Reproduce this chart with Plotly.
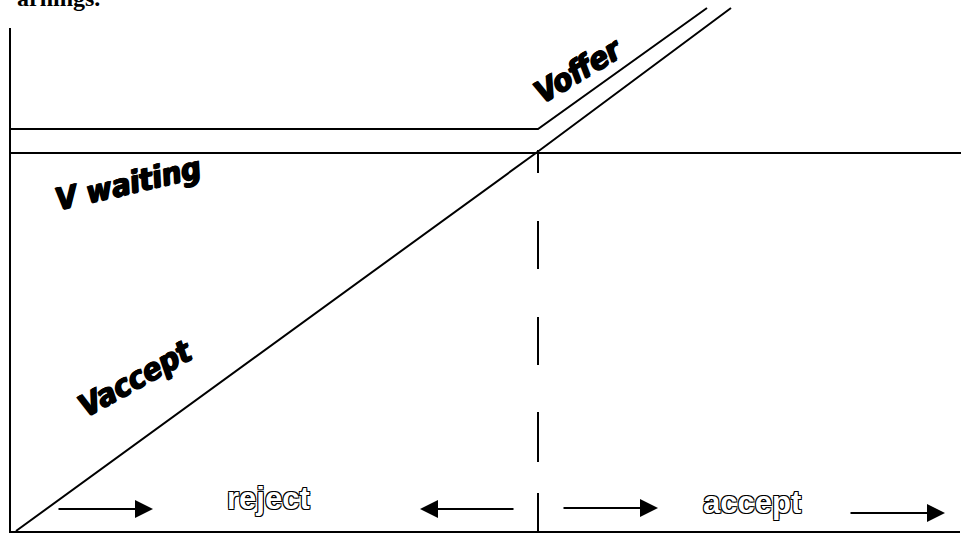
import plotly.graph_objects as go

# coordinates measured from the origin of the drawn axes (x right, y up)
axis_x = [0, 0, 950]
axis_y = [504, 0, 0]

waiting_x = [0, 951]
waiting_y = [379, 379]

offer_x = [0, 528, 697]
offer_y = [403, 403, 524]

accept_x = [6, 526, 721]
accept_y = [1, 379, 524]

cutoff_x = [528, 528]
cutoff_y = [382, 0]

# arrows: (tail x, tip x, y)
arrows = [(47, 143, 23), (505, 410, 23), (552, 648, 24), (839, 935, 19)]

labels = ["V waiting", "Voffer", "Vaccept"]
label_x = [118, 568, 125]
label_y = [349, 462, 154]
label_angle = [-13, -31, -29]

region_labels = ["reject", "accept"]
region_x = [258, 742]
region_y = [34, 30]

heading = "arnings."

line_style = dict(color="black", width=2)

fig = go.Figure()
fig.add_trace(go.Scatter(x=axis_x, y=axis_y, mode="lines", line=line_style))
fig.add_trace(go.Scatter(x=waiting_x, y=waiting_y, mode="lines", line=line_style))
fig.add_trace(go.Scatter(x=offer_x, y=offer_y, mode="lines", line=line_style))
fig.add_trace(go.Scatter(x=accept_x, y=accept_y, mode="lines", line=line_style))
fig.add_trace(go.Scatter(x=cutoff_x, y=cutoff_y, mode="lines",
                         line=dict(color="black", width=2,
                                   dash="23px,48px,48px,48px,48px,47px,50px,31px,39px")))

# heavy slanted labels, thickened with a tight shadow
heavy = "1px 0 0 #000, -1px 0 0 #000, 0 1px 0 #000"
label_font = dict(family="DejaVu Sans Condensed, DejaVu Sans",
                  size=31, color="black", weight="bold", style="italic",
                  shadow=heavy)
for text, x, y, a in zip(labels, label_x, label_y, label_angle):
    fig.add_annotation(x=x, y=y, text=text, showarrow=False, textangle=a,
                       font=label_font)

outline = "-1px -1px 0 #000, 1px -1px 0 #000, -1px 1px 0 #000, 1px 1px 0 #000"
for text, x, y in zip(region_labels, region_x, region_y):
    fig.add_annotation(x=x, y=y, text=text, showarrow=False,
                       font=dict(family="Liberation Sans", size=31, color="white",
                                 weight="bold", shadow=outline))

for tail, tip, y in arrows:
    fig.add_annotation(x=tip, y=y, ax=tail, ay=y, axref="x", ayref="y",
                       text="", showarrow=True, arrowhead=2, arrowsize=1.8,
                       arrowwidth=2, arrowcolor="black", standoff=0)

fig.add_annotation(x=92, y=519, text=heading, showarrow=False,
                   xanchor="right", yanchor="bottom",
                   font=dict(family="Liberation Serif", size=24, color="black",
                             weight="bold"))

fig.update_layout(
    width=961, height=533,
    margin=dict(l=0, r=0, t=0, b=0),
    paper_bgcolor="white", plot_bgcolor="white",
    showlegend=False, hovermode=False,
    xaxis=dict(visible=False, range=[-10, 951], fixedrange=True),
    yaxis=dict(visible=False, range=[-1, 532], fixedrange=True),
)

fig.write_html("out.html", config={"displayModeBar": False},
               post_script="document.body.style.margin = '0';")
